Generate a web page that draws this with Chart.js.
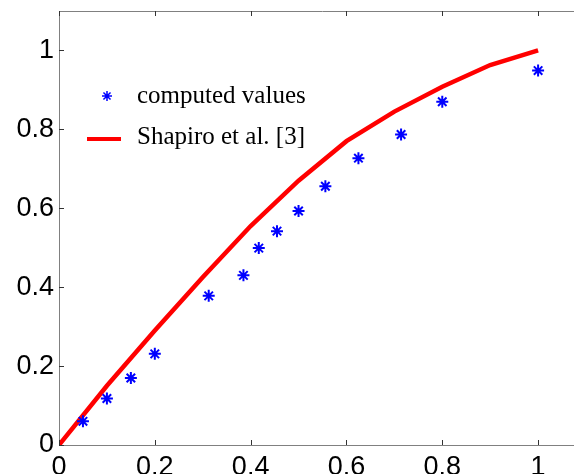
<!DOCTYPE html>
<html>
<head>
<meta charset="utf-8">
<script src="https://cdn.jsdelivr.net/npm/chart.js@4"></script>
<style>
  html, body { margin: 0; padding: 0; background: #fff; overflow: hidden; }
  canvas { display: block; }
</style>
</head>
<body>
<canvas id="grafico" width="600" height="490"></canvas>
<script>
// computed values (blue asterisks)
const computedX = [0.05, 0.1, 0.15, 0.2, 0.3125, 0.385, 0.417, 0.455, 0.5, 0.556, 0.625, 0.714, 0.8, 1.0];
const computedY = [0.06, 0.118, 0.17, 0.231, 0.378, 0.43, 0.499, 0.542, 0.593, 0.656, 0.727, 0.787, 0.87, 0.949];

// Shapiro et al. [3] (red line)
const shapiroX = [0, 0.1, 0.2, 0.3, 0.4, 0.5, 0.6, 0.7, 0.8, 0.9, 1.0];
const shapiroY = [0, 0.15, 0.29, 0.425, 0.555, 0.67, 0.77, 0.845, 0.908, 0.963, 1.0];

const xTicks = [0, 0.2, 0.4, 0.6, 0.8, 1];
const yTicks = [0, 0.2, 0.4, 0.6, 0.8, 1];

const etiquetas = ["computed values", "Shapiro et al. [3]"];

const ctx = document.getElementById("grafico").getContext("2d");

// box on top + inward ticks, matlab style
const cajaPlugin = {
  id: "caja",
  afterDraw(chart) {
    const { ctx, chartArea: a, scales } = chart;
    ctx.save();
    ctx.strokeStyle = "#808080";
    ctx.lineWidth = 1;
    ctx.beginPath();
    ctx.moveTo(a.left, a.top + 0.5);
    ctx.lineTo(a.right, a.top + 0.5);
    ctx.stroke();
    ctx.strokeStyle = "#333";
    ctx.beginPath();
    scales.x.ticks.forEach((t) => {
      const px = Math.round(scales.x.getPixelForValue(t.value)) + 0.5;
      ctx.moveTo(px, a.bottom);
      ctx.lineTo(px, a.bottom - 5);
      ctx.moveTo(px, a.top);
      ctx.lineTo(px, a.top + 5);
    });
    scales.y.ticks.forEach((t) => {
      const py = Math.round(scales.y.getPixelForValue(t.value)) + 0.5;
      ctx.moveTo(a.left, py);
      ctx.lineTo(a.left + 5, py);
    });
    ctx.stroke();
    ctx.restore();
  },
};

// legend inside the axes, no box
const leyendaPlugin = {
  id: "leyenda",
  afterDraw(chart) {
    const { ctx, chartArea: a } = chart;
    const d0 = chart.data.datasets[0];
    const d1 = chart.data.datasets[1];
    ctx.save();
    // asterisk
    const sx = a.left + 48, sy = a.top + 85, r = 5;
    ctx.strokeStyle = d0.borderColor;
    ctx.lineWidth = 1.5;
    ctx.beginPath();
    for (let k = 0; k < 4; k++) {
      const ang = (k * Math.PI) / 4;
      ctx.moveTo(sx - r * Math.cos(ang), sy - r * Math.sin(ang));
      ctx.lineTo(sx + r * Math.cos(ang), sy + r * Math.sin(ang));
    }
    ctx.stroke();
    // red line
    ctx.strokeStyle = d1.borderColor;
    ctx.lineWidth = 4;
    ctx.beginPath();
    ctx.moveTo(a.left + 28, a.top + 128);
    ctx.lineTo(a.left + 62, a.top + 128);
    ctx.stroke();
    ctx.fillStyle = "#000";
    ctx.font = '25px "Liberation Serif", "Times New Roman", serif';
    ctx.textBaseline = "alphabetic";
    ctx.fillText(d0.label, a.left + 78, a.top + 92);
    ctx.fillText(d1.label, a.left + 78, a.top + 133);
    ctx.restore();
  },
};

const miGrafico = new Chart(ctx, {
  type: "scatter",
  data: {
    datasets: [
      {
        label: etiquetas[0],
        data: computedX.map((x, i) => ({ x: x, y: computedY[i] })),
        showLine: false,
        pointStyle: "star",
        pointRadius: 6,
        pointBorderWidth: 2,
        borderColor: "#0000ff",
        backgroundColor: "#0000ff",
      },
      {
        label: etiquetas[1],
        data: shapiroX.map((x, i) => ({ x: x, y: shapiroY[i] })),
        showLine: true,
        pointRadius: 0,
        borderWidth: 4.5,
        tension: 0,
        borderColor: "#ff0000",
        backgroundColor: "#ff0000",
      },
    ],
  },
  options: {
    responsive: false,
    animation: false,
    layout: { padding: { left: 0, top: 11, right: 14, bottom: 0 } },
    plugins: {
      legend: { display: false },
      tooltip: { enabled: false },
    },
    scales: {
      x: {
        type: "linear",
        min: 0,
        max: 1.1,
        afterBuildTicks: (s) => { s.ticks = xTicks.map((v) => ({ value: v })); },
        afterFit: (s) => { s.height = 45; s.paddingLeft = 0; s.paddingRight = 0; },
        grid: { display: true, drawOnChartArea: false, drawTicks: false },
        border: { display: true, color: "#808080", width: 1 },
        ticks: {
          padding: 6,
          color: "#000",
          font: { family: '"Liberation Sans", Arial, sans-serif', size: 27 },
          callback: (v) => String(Number(v.toFixed(1))),
        },
      },
      y: {
        type: "linear",
        min: 0,
        max: 1.1,
        afterBuildTicks: (s) => { s.ticks = yTicks.map((v) => ({ value: v })); },
        afterFit: (s) => { s.width = 59; s.paddingTop = 0; s.paddingBottom = 0; },
        grid: { display: true, drawOnChartArea: false, drawTicks: false },
        border: { display: true, color: "#808080", width: 1 },
        ticks: {
          padding: 5,
          color: "#000",
          font: { family: '"Liberation Sans", Arial, sans-serif', size: 27 },
          callback: (v) => String(Number(v.toFixed(1))),
        },
      },
    },
  },
  plugins: [cajaPlugin, leyendaPlugin],
});
</script>
</body>
</html>
